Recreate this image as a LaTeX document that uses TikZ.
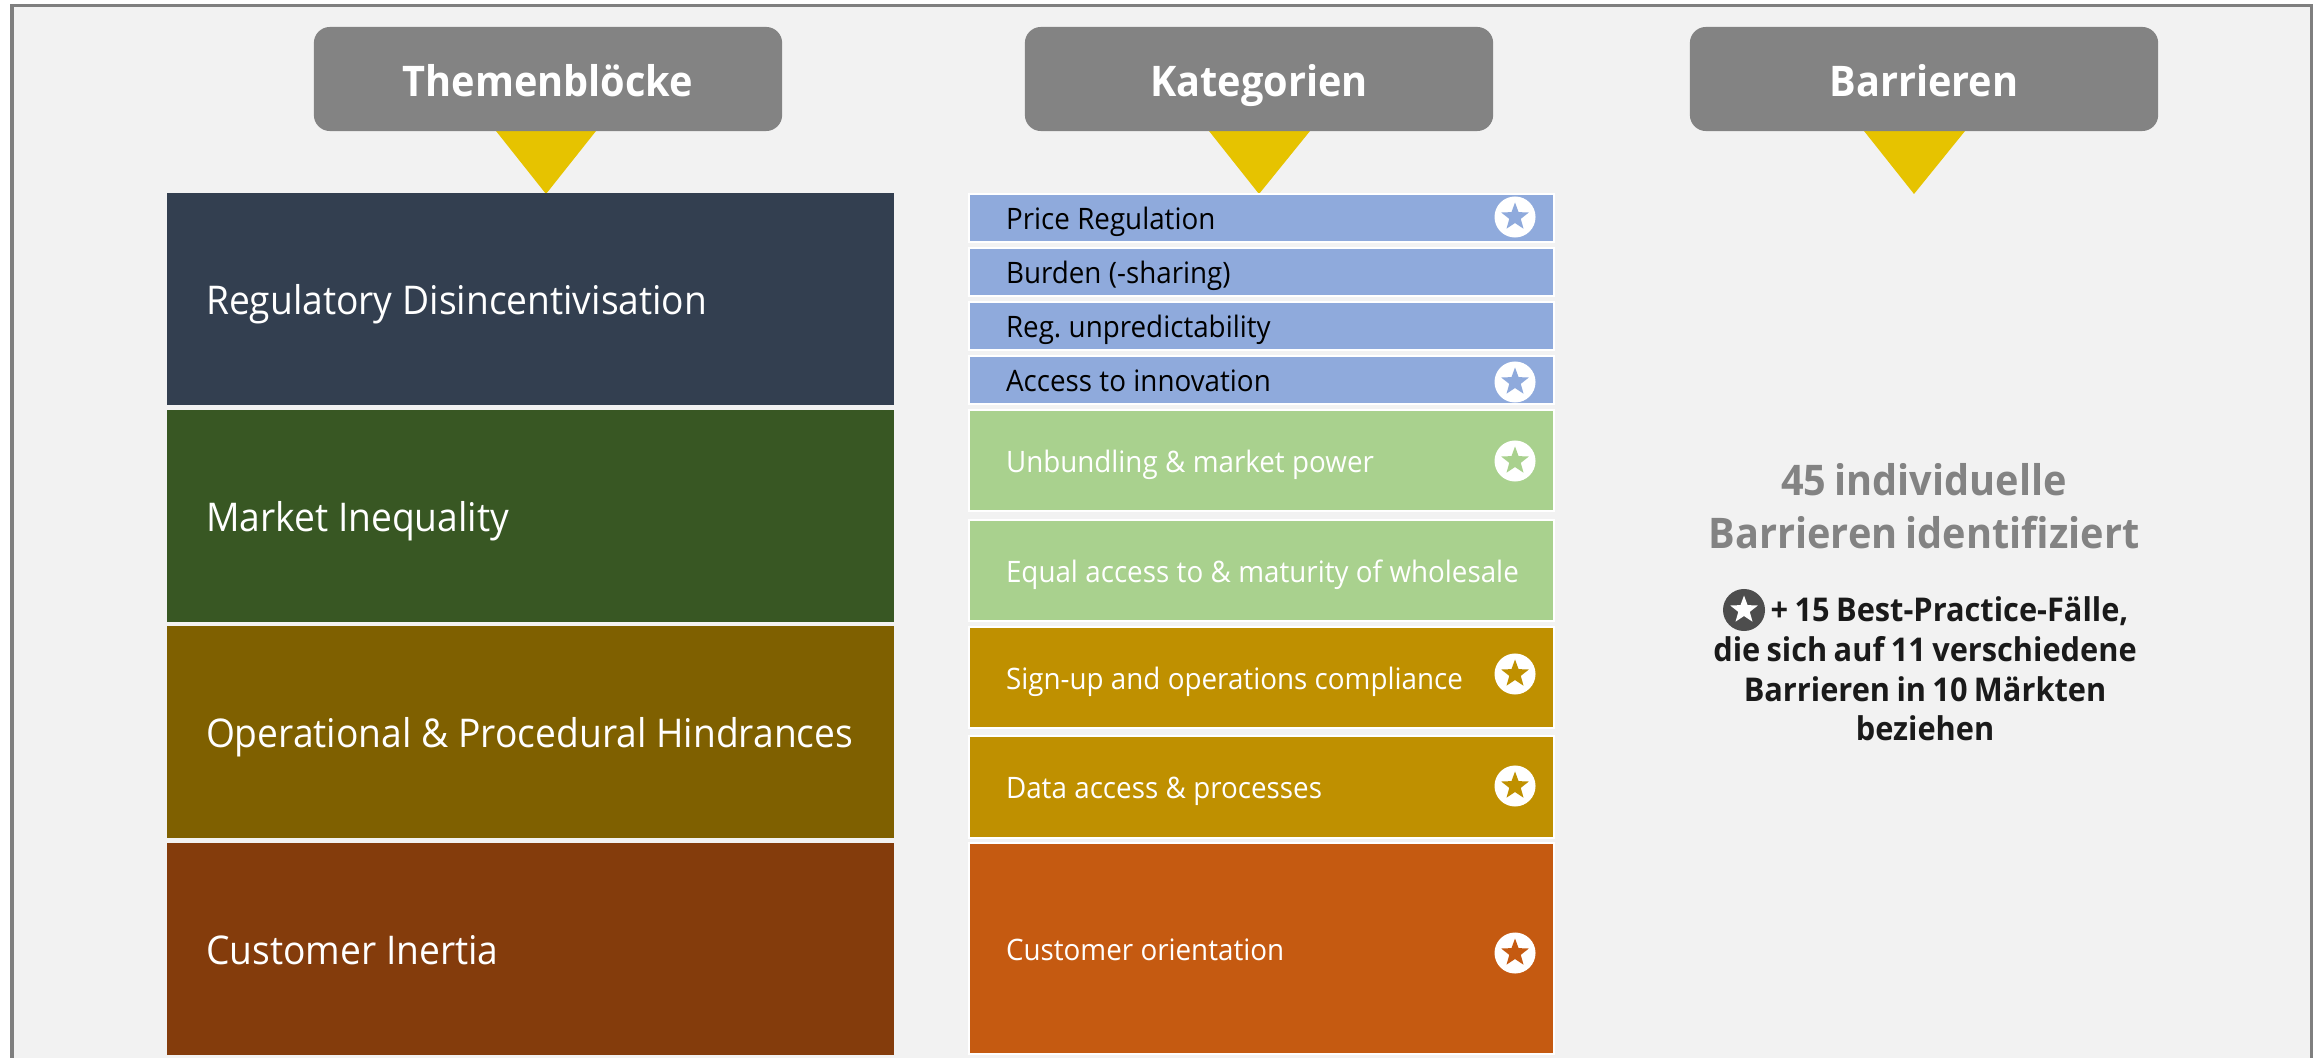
\documentclass[tikz,border=0pt]{standalone}
\usepackage{xcolor}
\usepackage{fontspec}
\setmainfont[FakeStretch=0.94,BoldFeatures={FakeStretch=0.94,WordSpace=0.8}]{Open Sans}
\usetikzlibrary{shapes.geometric}

\definecolor{bggray}{HTML}{F2F2F2}
\definecolor{framegray}{HTML}{7F7F7F}
\definecolor{headgray}{HTML}{838383}
\definecolor{tipyellow}{HTML}{E6C300}
\definecolor{themeA}{HTML}{333F50}
\definecolor{themeB}{HTML}{385723}
\definecolor{themeC}{HTML}{7F6000}
\definecolor{themeD}{HTML}{843C0C}
\definecolor{catA}{HTML}{8FAADC}
\definecolor{catB}{HTML}{A9D18E}
\definecolor{catC}{HTML}{BF9000}
\definecolor{catD}{HTML}{C55A11}
\definecolor{legendgray}{HTML}{4D4D4D}
\definecolor{noteblack}{HTML}{1A1A1A}

\tikzset{
	headbox/.style={fill=headgray,rounded corners=0.16cm,minimum width=4.68cm,minimum height=1.04cm,text height=0.44cm,text depth=0.10cm,text=white,font=\fontsize{12.0}{14}\selectfont\bfseries},
	tip/.style={fill=tipyellow},
	themebox/.style={anchor=north west,outer sep=0pt,minimum width=7.27cm,minimum height=2.12cm,text width=6.49cm,inner xsep=0.39cm,text height=0.42cm,text depth=0.11cm,align=left,text=white,font=\fontsize{11.25}{13}\selectfont,execute at begin node={\frenchspacing\spaceskip=0.25em\relax}},
	catbox/.style={anchor=north west,draw=white,line width=0.02cm,minimum width=5.85cm,text width=5.11cm,inner xsep=0.37cm,inner ysep=0pt,text height=0.32cm,text depth=0.09cm,align=left,font=\fontsize{8.4}{10}\selectfont,execute at begin node={\frenchspacing\spaceskip=0.25em\relax}},
	badge/.style={circle,fill=white,minimum size=0.41cm,inner sep=0pt},
	badgestar/.style={star,star points=5,star point ratio=2.4,minimum size=0.29cm,inner sep=0pt}
}

\begin{document}
\begin{tikzpicture}[x=0.01cm,y=-0.01cm]
	\useasboundingbox (0,0) rectangle (2313,1058);
	\begin{scope}
		\clip (0,0) rectangle (2313,1058);
		\draw[framegray,fill=bggray,line width=0.03cm] (12,6) rectangle (2311,1080);
	\end{scope}

	% pointers below the headers
	\fill[tip] (496,131) -- (596,131) -- (546,194) -- cycle;
	\fill[tip] (1209,131) -- (1310,131) -- (1259,194) -- cycle;
	\fill[tip] (1864,131) -- (1965,131) -- (1914,194) -- cycle;

	% headers
	\node[headbox] (headThemen) at (548,79) {Themenblöcke};
	\node[headbox] (headKat) at (1259,79) {Kategorien};
	\node[headbox] (headBarr) at (1924,79) {Barrieren};

	% left column
	\node[themebox,fill=themeA] (themeReg) at (167,193) {Regulatory Disincentivisation};
	\node[themebox,fill=themeB] (themeMarket) at (167,410) {Market Inequality};
	\node[themebox,fill=themeC] (themeOp) at (167,626) {\mbox{Operational \& Procedural Hindrances}};
	\node[themebox,fill=themeD] (themeCust) at (167,843) {Customer Inertia};

	% middle column
	\node[catbox,fill=catA,text=black,minimum height=0.48cm] (catPrice) at (968,193) {Price Regulation};
	\node[catbox,fill=catA,text=black,minimum height=0.48cm] (catBurden) at (968,247) {Burden (-sharing)};
	\node[catbox,fill=catA,text=black,minimum height=0.48cm] (catReg) at (968,301) {Reg. unpredictability};
	\node[catbox,fill=catA,text=black,minimum height=0.48cm] (catAccess) at (968,355) {Access to innovation};
	\node[catbox,fill=catB,text=white,minimum height=1.01cm] (catUnb) at (968,409) {Unbundling \& market power};
	\node[catbox,fill=catB,text=white,minimum height=1.01cm] (catEqual) at (968,519) {\mbox{Equal access to \& maturity of wholesale}};
	\node[catbox,fill=catC,text=white,minimum height=1.01cm] (catSign) at (968,626) {\mbox{Sign-up and operations compliance}};
	\node[catbox,fill=catC,text=white,minimum height=1.02cm] (catData) at (968,735) {Data access \& processes};
	\node[catbox,fill=catD,text=white,minimum height=2.11cm] (catCust) at (968,842) {Customer orientation};

	% best practice marks
	\node[badge] (markPrice) at (1515,217) {};
	\node[badgestar,fill=catA] (starPrice) at (markPrice) {};
	\node[badge] (markAccess) at (1515,382) {};
	\node[badgestar,fill=catA] (starAccess) at (markAccess) {};
	\node[badge] (markUnb) at (1515,461) {};
	\node[badgestar,fill=catB] (starUnb) at (markUnb) {};
	\node[badge] (markSign) at (1515,674) {};
	\node[badgestar,fill=catC] (starSign) at (markSign) {};
	\node[badge] (markData) at (1515,786) {};
	\node[badgestar,fill=catC] (starData) at (markData) {};
	\node[badge] (markCust) at (1515,953) {};
	\node[badgestar,fill=catD] (starCust) at (markCust) {};

	% right column
	\node[align=center,text=headgray,font=\fontsize{12.0}{15.2}\selectfont\bfseries] (noteCount) at (1924,506) {45 individuelle\\Barrieren identifiziert};
	\node[align=center,text=noteblack,font=\fontsize{9.3}{11.3}\selectfont\bfseries] (noteBest) at (1925,669) {\hphantom{OO}+ 15 Best-Practice-Fälle,\\die sich auf 11 verschiedene\\Barrieren in 10 Märkten\\beziehen};
	\node[badge,fill=legendgray,minimum size=0.42cm] (markLegend) at (1744,610) {};
	\node[badgestar,fill=white] (starLegend) at (markLegend) {};
\end{tikzpicture}
\end{document}
